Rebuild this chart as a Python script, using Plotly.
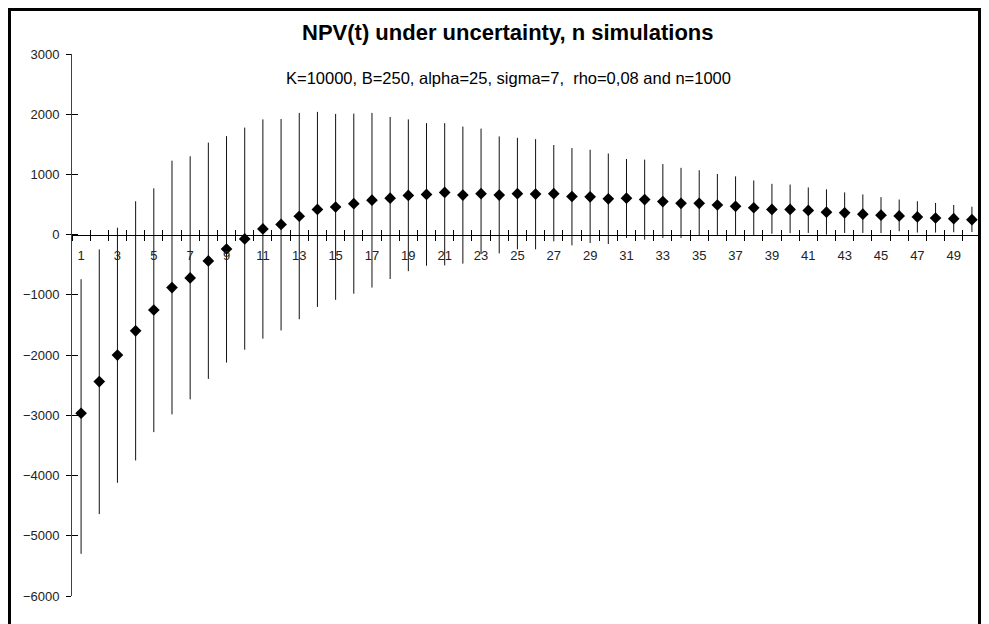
import plotly.graph_objects as go

# ---- data ----
periods = list(range(1, 51))
x_tick_labels = [str(i) for i in range(1, 50, 2)]
y_tick_values = [3000, 2000, 1000, 0, -1000, -2000, -3000, -4000, -5000, -6000]

npv_mean = [-2965, -2440, -2000, -1597, -1251, -878, -719, -436, -238, -70,
            96, 170, 306, 419, 459, 515, 572, 606, 651, 668,
            702, 657, 680, 657, 680, 674, 680, 634, 629, 595,
            606, 583, 549, 521, 521, 493, 470, 447, 419, 419,
            402, 374, 362, 340, 323, 311, 294, 277, 266, 249]

npv_high = [-740, -245, 115, 555, 770, 1229, 1302, 1529, 1636, 1778,
            1914, 1920, 2022, 2039, 2005, 2010, 2022, 1954, 1914, 1852,
            1852, 1795, 1761, 1631, 1608, 1586, 1489, 1438, 1410, 1348,
            1257, 1246, 1172, 1110, 1070, 1008, 968, 900, 844, 832,
            784, 753, 702, 668, 623, 583, 555, 527, 493, 464]

npv_low = [-5300, -4640, -4120, -3749, -3279, -2984, -2735, -2395, -2123, -1910,
           -1727, -1591, -1404, -1200, -1082, -980, -878, -736, -606, -515,
           -510, -481, -323, -311, -243, -243, -111, -177, -138, -155,
           -55, -83, -55, -55, -22, -5, -15, -5, 15, 25,
           28, 0, 28, 28, 28, 57, 35, 35, 40, 45]

title_text = "NPV(t) under uncertainty, n simulations"
subtitle_text = "K=10000, B=250, alpha=25, sigma=7,  rho=0,08 and n=1000"

# ---- derived error bar lengths ----
err_plus = [h - m for h, m in zip(npv_high, npv_mean)]
err_minus = [m - l for m, l in zip(npv_mean, npv_low)]

FONT = "Liberation Sans, Arial, sans-serif"
OFF = 8  # page body margin
W, H = 989 - 2 * OFF, 624 - OFF
L, T = 72 - OFF, 54 - OFF
R = 0
B = H - (596 - OFF)
pw, ph = W - L - R, H - T - B


def px_x(p):  # page pixel -> paper fraction
    return (p - OFF - L) / pw


def px_y(p):
    return (H - B - (p - OFF)) / ph


fig = go.Figure()
fig.add_trace(go.Scatter(
    x=periods, y=npv_mean, mode="markers",
    marker=dict(symbol="diamond", size=9, color="black"),
    error_y=dict(type="data", symmetric=False, array=err_plus, arrayminus=err_minus,
                 width=0, thickness=1, color="#111111"),
    showlegend=False, hoverinfo="x+y", xaxis="x", yaxis="y"))
# helper traces so the tick-only axes get drawn
for xa, ya in (("x2", "y"), ("x3", "y"), ("x", "y2")):
    fig.add_trace(go.Scatter(x=[None], y=[None], mode="markers", showlegend=False,
                             hoverinfo="skip", xaxis=xa, yaxis=ya))

yrange = [-6000, 3000]
zero_pos = (0 - yrange[0]) / (yrange[1] - yrange[0])
xrange_ = [0.5, 50.5]

common_x = dict(range=xrange_, anchor="free", position=zero_pos, showgrid=False,
                zeroline=False, fixedrange=True)
fig.update_layout(
    width=W, height=H,
    margin=dict(l=L, r=R, t=T, b=B, pad=0),
    paper_bgcolor="white", plot_bgcolor="white",
    font=dict(family=FONT, size=12, color="black"),
    xaxis=dict(**common_x, tickmode="array", tickvals=list(range(1, 51, 2)),
               ticktext=x_tick_labels, ticks="", showline=True, linecolor="black",
               linewidth=1, ticklabelstandoff=9,
               tickfont=dict(family=FONT, size=13, color="#222222")),
    xaxis2=dict(**common_x, overlaying="x", tickmode="linear", tick0=0.5, dtick=1,
                ticks="outside", ticklen=5, tickcolor="black", showticklabels=False,
                showline=False),
    xaxis3=dict(**common_x, overlaying="x", tickmode="linear", tick0=0.5, dtick=1,
                ticks="inside", ticklen=5, tickcolor="black", showticklabels=False,
                showline=False),
    yaxis=dict(range=yrange, domain=[0, 1], anchor="x", tickmode="array",
               tickvals=y_tick_values, ticks="outside", ticklen=5, tickcolor="black",
               showline=True, linecolor="#404040", linewidth=1, showgrid=False,
               zeroline=False, fixedrange=True, ticklabelstandoff=4,
               tickfont=dict(family=FONT, size=13, color="#222222")),
    yaxis2=dict(range=yrange, overlaying="y", anchor="x", side="left", tickmode="array",
                tickvals=y_tick_values, ticks="inside", ticklen=6, tickcolor="black",
                showticklabels=False, showline=False, showgrid=False, zeroline=False),
    annotations=[
        dict(text="<b>" + title_text + "</b>", xref="paper", yref="paper",
             x=px_x(508), y=px_y(33), showarrow=False, xanchor="center", yanchor="middle",
             font=dict(family=FONT, size=22, color="black")),
        dict(text=subtitle_text, xref="paper", yref="paper",
             x=px_x(508), y=px_y(78), showarrow=False, xanchor="center", yanchor="middle",
             font=dict(family=FONT, size=16.5, color="black")),
    ],
    shapes=[dict(type="rect", xref="paper", yref="paper",
                 x0=px_x(9.5), x1=px_x(979.5), y0=px_y(660), y1=px_y(9.5),
                 line=dict(color="black", width=3), fillcolor="rgba(0,0,0,0)", layer="above")],
)

fig.write_html("out.html")
